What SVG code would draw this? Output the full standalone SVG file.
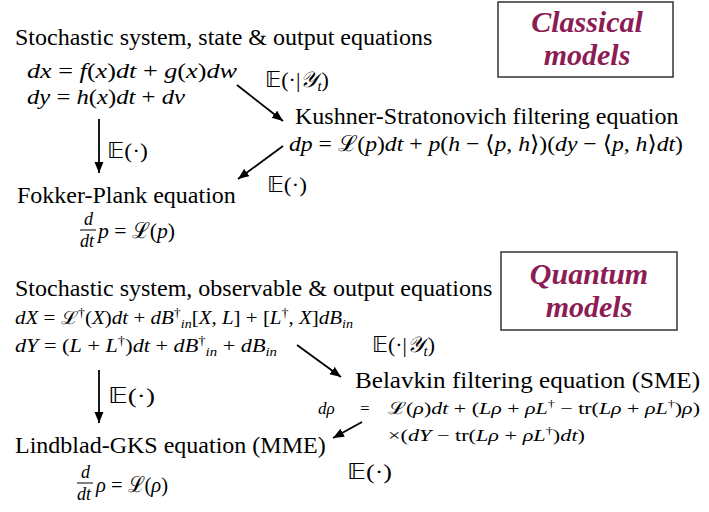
<svg xmlns="http://www.w3.org/2000/svg" width="709" height="512" viewBox="0 0 709 512">
<style>
.t{font-family:"Liberation Serif","Times New Roman",serif;font-size:24px;fill:#000}
.m{font-family:"Liberation Serif","DejaVu Serif",serif;font-size:22px;fill:#000}
.f{font-size:18px}
.s{font-size:18px}
.xs{font-size:17px}
.i{font-style:italic}
.bb{font-family:"DejaVu Sans",sans-serif;font-style:normal}
.lab{font-family:"Liberation Serif",serif;font-size:30px;font-weight:bold;font-style:italic;fill:#8c1c55;text-anchor:middle}
.box{fill:#fff;stroke:#333;stroke-width:1.5}
.arr{stroke:#000;stroke-width:1.8;fill:none;marker-end:url(#ah)}
.bar{stroke:#000;stroke-width:1}
</style>
<defs>
<marker id="ah" markerUnits="userSpaceOnUse" markerWidth="12" markerHeight="10" refX="11" refY="4.5" orient="auto">
<path d="M0,0 L11,4.5 L0,9 z" fill="#000"/>
</marker>
</defs>
<rect width="709" height="512" fill="#fff"/>

<g id="classical-label">
<rect class="box" x="498" y="2" width="175" height="75"/>
<text class="lab" x="587" y="32">Classical</text>
<text class="lab" x="587" y="65">models</text>
</g>

<g id="classical-system">
<text class="t" x="15" y="45">Stochastic system, state &amp; output equations</text>
<text class="m" x="27" y="78" textLength="210" lengthAdjust="spacingAndGlyphs"><tspan class="i">dx</tspan> = <tspan class="i">f</tspan>(<tspan class="i">x</tspan>)<tspan class="i">dt</tspan> + <tspan class="i">g</tspan>(<tspan class="i">x</tspan>)<tspan class="i">dw</tspan></text>
<text class="m" x="27" y="104" textLength="158" lengthAdjust="spacingAndGlyphs"><tspan class="i">dy</tspan> = <tspan class="i">h</tspan>(<tspan class="i">x</tspan>)<tspan class="i">dt</tspan> + <tspan class="i">dv</tspan></text>
</g>

<g id="kushner">
<text class="t" x="295" y="124">Kushner-Stratonovich filtering equation</text>
<text class="m" x="289" y="151" textLength="394" lengthAdjust="spacingAndGlyphs"><tspan class="i">dp</tspan> = ℒ(<tspan class="i">p</tspan>)<tspan class="i">dt</tspan> + <tspan class="i">p</tspan>(<tspan class="i">h</tspan> − ⟨<tspan class="i">p, h</tspan>⟩)(<tspan class="i">dy</tspan> − ⟨<tspan class="i">p, h</tspan>⟩<tspan class="i">dt</tspan>)</text>
</g>

<g id="fokker">
<text class="t" x="17" y="203">Fokker-Plank equation</text>
<text class="m f i" x="84" y="225">d</text>
<line class="bar" x1="80" y1="230" x2="96" y2="230"/>
<text class="m f i" x="80" y="247">dt</text>
<text class="m" x="98" y="238" font-size="20" textLength="77" lengthAdjust="spacingAndGlyphs"><tspan class="i">p</tspan> = ℒ(<tspan class="i">p</tspan>)</text>
</g>

<g id="quantum-label">
<rect class="box" x="501" y="252" width="176" height="78"/>
<text class="lab" x="589" y="284">Quantum</text>
<text class="lab" x="589" y="317">models</text>
</g>

<g id="quantum-system">
<text class="t" x="15" y="296">Stochastic system, observable &amp; output equations</text>
<text class="m s" x="15" y="324" textLength="338" lengthAdjust="spacingAndGlyphs"><tspan class="i">dX</tspan> = ℒ<tspan dy="-7" font-size="12">†</tspan><tspan dy="7">(</tspan><tspan class="i">X</tspan>)<tspan class="i">dt</tspan> + <tspan class="i">dB</tspan><tspan dy="-7" font-size="12">†</tspan><tspan dy="11" font-size="12" class="i">in</tspan><tspan dy="-4">[</tspan><tspan class="i">X, L</tspan>] + [<tspan class="i">L</tspan><tspan dy="-7" font-size="12">†</tspan><tspan dy="7">, </tspan><tspan class="i">X</tspan>]<tspan class="i">dB</tspan><tspan dy="4" font-size="12" class="i">in</tspan></text>
<text class="m s" x="15" y="352" textLength="262" lengthAdjust="spacingAndGlyphs"><tspan class="i">dY</tspan> = (<tspan class="i">L</tspan> + <tspan class="i">L</tspan><tspan dy="-7" font-size="12">†</tspan><tspan dy="7">)</tspan><tspan class="i">dt</tspan> + <tspan class="i">dB</tspan><tspan dy="-7" font-size="12">†</tspan><tspan dy="11" font-size="12" class="i">in</tspan><tspan dy="-4"> + </tspan><tspan class="i">dB</tspan><tspan dy="4" font-size="12" class="i">in</tspan></text>
</g>

<g id="belavkin">
<text class="t" x="355" y="388" textLength="345" lengthAdjust="spacingAndGlyphs">Belavkin filtering equation (SME)</text>
<text class="m xs i" x="318" y="414">dρ</text>
<text class="m xs" x="360" y="414">=</text>
<text class="m xs" x="388" y="414" textLength="312" lengthAdjust="spacingAndGlyphs">ℒ(<tspan class="i">ρ</tspan>)<tspan class="i">dt</tspan> + (<tspan class="i">Lρ</tspan> + <tspan class="i">ρL</tspan><tspan dy="-7" font-size="11">†</tspan><tspan dy="7"> − tr(</tspan><tspan class="i">Lρ</tspan> + <tspan class="i">ρL</tspan><tspan dy="-7" font-size="11">†</tspan><tspan dy="7">)</tspan><tspan class="i">ρ</tspan>)</text>
<text class="m xs" x="388" y="441" textLength="197" lengthAdjust="spacingAndGlyphs">×(<tspan class="i">dY</tspan> − tr(<tspan class="i">Lρ</tspan> + <tspan class="i">ρL</tspan><tspan dy="-7" font-size="11">†</tspan><tspan dy="7">)</tspan><tspan class="i">dt</tspan>)</text>
</g>

<g id="lindblad">
<text class="t" x="15" y="453">Lindblad-GKS equation (MME)</text>
<text class="m f i" x="81" y="478">d</text>
<line class="bar" x1="77" y1="483" x2="93" y2="483"/>
<text class="m f i" x="77" y="500">dt</text>
<text class="m" x="96" y="492" font-size="20" textLength="72" lengthAdjust="spacingAndGlyphs"><tspan class="i">ρ</tspan> = ℒ(<tspan class="i">ρ</tspan>)</text>
</g>

<g id="connectors">
<line class="arr" x1="237" y1="85" x2="283" y2="121"/>
<line class="arr" x1="283" y1="146" x2="238" y2="179"/>
<line class="arr" x1="99" y1="119" x2="99" y2="173"/>
<line class="arr" x1="297" y1="345" x2="341" y2="377"/>
<line class="arr" x1="362" y1="422" x2="333" y2="438"/>
<line class="arr" x1="99" y1="370" x2="99" y2="423"/>
</g>

<g id="connector-labels">
<text class="m" x="265" y="87" textLength="64" lengthAdjust="spacingAndGlyphs"><tspan class="bb">𝔼</tspan>(·|<tspan class="i">𝒴</tspan><tspan dy="4" font-size="15" class="i">t</tspan><tspan dy="-4">)</tspan></text>
<text class="m" x="107" y="158" textLength="41" lengthAdjust="spacingAndGlyphs"><tspan class="bb">𝔼</tspan>(·)</text>
<text class="m" x="267" y="192" textLength="40" lengthAdjust="spacingAndGlyphs"><tspan class="bb">𝔼</tspan>(·)</text>
<text class="m" x="372" y="352" textLength="63" lengthAdjust="spacingAndGlyphs"><tspan class="bb">𝔼</tspan>(·|<tspan class="i">𝒴</tspan><tspan dy="4" font-size="15" class="i">t</tspan><tspan dy="-4">)</tspan></text>
<text class="m" x="108" y="403" textLength="47" lengthAdjust="spacingAndGlyphs"><tspan class="bb">𝔼</tspan>(·)</text>
<text class="m" x="347" y="479" textLength="45" lengthAdjust="spacingAndGlyphs"><tspan class="bb">𝔼</tspan>(·)</text>
</g>
</svg>
